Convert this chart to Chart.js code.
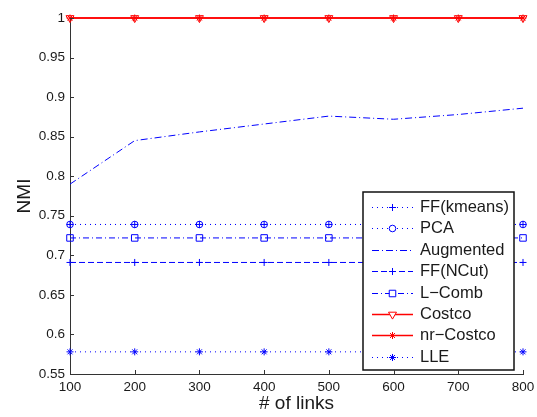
<!DOCTYPE html>
<html>
<head>
<meta charset="utf-8">
<script src="https://cdn.jsdelivr.net/npm/chart.js@4.4.0/dist/chart.umd.min.js"></script>
<style>
  html, body { margin: 0; padding: 0; background: #fff; }
  #wrap { width: 537px; height: 417px; }
</style>
</head>
<body>
<div id="wrap"><canvas id="chart" width="537" height="417"></canvas></div>
<script>
// number of links on the x axis
const links = [100, 200, 300, 400, 500, 600, 700, 800];

// NMI per method
const ffKmeans  = [0.739, 0.739, 0.739, 0.739, 0.739, 0.739, 0.739, 0.739];
const pca       = [0.739, 0.739, 0.739, 0.739, 0.739, 0.739, 0.739, 0.739];
const augmented = [0.790, 0.845, 0.856, 0.866, 0.876, 0.872, 0.878, 0.886];
const ffNcut    = [0.691, 0.691, 0.691, 0.691, 0.691, 0.691, 0.691, 0.691];
const lComb     = [0.722, 0.722, 0.722, 0.722, 0.722, 0.722, 0.722, 0.722];
const costco    = [1, 1, 1, 1, 1, 1, 1, 1];
const nrCostco  = [1, 1, 1, 1, 1, 1, 1, 1];
const lle       = [0.578, 0.578, 0.578, 0.578, 0.578, 0.578, 0.578, 0.578];

const yMin = 0.55, yMax = 1, yStep = 0.05;

const BLUE = '#0000ff';
const RED = '#ff0000';
const TEXT = '#1a1a1a';
const FONT = "'Liberation Sans', Arial, sans-serif";

Chart.defaults.font.family = FONT;
Chart.defaults.color = TEXT;

function series(label, values, opts) {
  return Object.assign({
    label: label,
    data: links.map((x, i) => ({ x: x, y: values[i] })),
    borderColor: BLUE,
    borderWidth: 1,
    fill: false,
    tension: 0,
    clip: false,
    pointBorderColor: BLUE,
    pointBackgroundColor: 'rgba(0,0,0,0)',
    pointBorderWidth: 1,
    pointHoverRadius: 0,
    pointRadius: 3.5,
  }, opts);
}

const datasets = [
  series('FF(kmeans)', ffKmeans, { borderDash: [1, 4], pointStyle: 'cross', pointRadius: 3.5 }),
  series('PCA', pca, { borderDash: [1, 4], pointStyle: 'circle', pointRadius: 3.3 }),
  series('Augmented', augmented, { borderDash: [7, 3, 1, 3], pointRadius: 0 }),
  series('FF(NCut)', ffNcut, { borderDash: [6, 3], pointStyle: 'cross', pointRadius: 3.5 }),
  series('L\u2212Comb', lComb, { borderDash: [6, 3, 1, 3], pointStyle: 'rect', pointRadius: 4.6 }),
  series('Costco', costco, { borderColor: RED, pointBorderColor: RED, borderWidth: 1.5,
    pointStyle: 'triangle', pointRotation: 180, pointRadius: 4.6 }),
  series('nr\u2212Costco', nrCostco, { borderColor: RED, pointBorderColor: RED, borderWidth: 1.5,
    pointStyle: 'star', pointRadius: 3.5 }),
  series('LLE', lle, { borderDash: [1, 4], pointStyle: 'star', pointRadius: 3.5 }),
];

// MATLAB style inward tick marks
const inwardTicks = {
  id: 'inwardTicks',
  afterDraw(chart) {
    const { ctx, chartArea: a, scales } = chart;
    ctx.save();
    ctx.strokeStyle = '#333';
    ctx.lineWidth = 1;
    ctx.beginPath();
    scales.x.ticks.forEach(t => {
      const x = Math.round(scales.x.getPixelForValue(t.value)) + 0.5;
      ctx.moveTo(x, a.bottom);
      ctx.lineTo(x, a.bottom - 4);
    });
    scales.y.ticks.forEach(t => {
      const y = Math.round(scales.y.getPixelForValue(t.value)) + 0.5;
      ctx.moveTo(a.left, y);
      ctx.lineTo(a.left + 4, y);
    });
    ctx.stroke();
    ctx.restore();
  }
};

// boxed legend in the lower right corner of the axes
const boxLegend = {
  id: 'boxLegend',
  afterDatasetsDraw(chart) {
    const { ctx, chartArea: a } = chart;
    const w = 151, h = 178;
    const left = a.right - 9 - w, top = a.bottom - 4 - h;
    ctx.save();
    ctx.fillStyle = '#fff';
    ctx.fillRect(left, top, w, h);
    ctx.strokeStyle = '#111';
    ctx.lineWidth = 1.5;
    ctx.strokeRect(left, top, w, h);

    chart.data.datasets.forEach((ds, i) => {
      const y = Math.round(top + 15 + i * 21.4) + 0.5;
      ctx.strokeStyle = ds.borderColor;
      ctx.lineWidth = ds.borderWidth;
      ctx.setLineDash(ds.borderDash || []);
      ctx.beginPath();
      ctx.moveTo(left + 9, y);
      ctx.lineTo(left + 50, y);
      ctx.stroke();
      ctx.setLineDash([]);
      if (ds.pointRadius > 0) {
        ctx.strokeStyle = ds.pointBorderColor;
        ctx.fillStyle = '#fff';
        ctx.lineWidth = 1;
        Chart.helpers.drawPoint(ctx, {
          pointStyle: ds.pointStyle,
          radius: ds.pointRadius,
          rotation: ds.pointRotation || 0,
          borderWidth: 1
        }, left + 29.5, y);
      }
      ctx.fillStyle = TEXT;
      ctx.font = '16.5px ' + FONT;
      ctx.textBaseline = 'middle';
      ctx.textAlign = 'left';
      ctx.fillText(ds.label, left + 57, y);
    });
    ctx.restore();
  }
};

new Chart(document.getElementById('chart'), {
  type: 'line',
  data: { datasets: datasets },
  options: {
    responsive: false,
    animation: false,
    devicePixelRatio: 1,
    layout: { padding: { left: 0, top: 18, right: 14, bottom: 0 } },
    plugins: {
      legend: { display: false },
      tooltip: { enabled: false },
    },
    scales: {
      x: {
        type: 'linear',
        min: 100,
        max: 800,
        afterFit: s => { s.height = 43; s.paddingRight = 0; s.paddingLeft = 0; },
        ticks: { stepSize: 100, padding: 5, font: { size: 13.5 }, color: TEXT, maxRotation: 0 },
        grid: { display: false, drawTicks: false },
        border: { display: true, color: '#333', width: 1 },
        title: { display: true, text: '# of links', font: { size: 19, lineHeight: 1 }, padding: { top: 2 }, color: TEXT },
      },
      y: {
        min: yMin,
        max: yMax,
        afterFit: s => { s.width = 70; s.paddingTop = 0; s.paddingBottom = 0; },
        ticks: {
          stepSize: yStep, padding: 5, font: { size: 13.5 }, color: TEXT,
          callback: v => String(Number(v.toFixed(2))),
        },
        grid: { display: false, drawTicks: false },
        border: { display: true, color: '#333', width: 1 },
        title: { display: true, text: 'NMI', font: { size: 19, lineHeight: 1 }, padding: { top: 15 }, color: TEXT },
      },
    },
  },
  plugins: [inwardTicks, boxLegend],
});
</script>
</body>
</html>
